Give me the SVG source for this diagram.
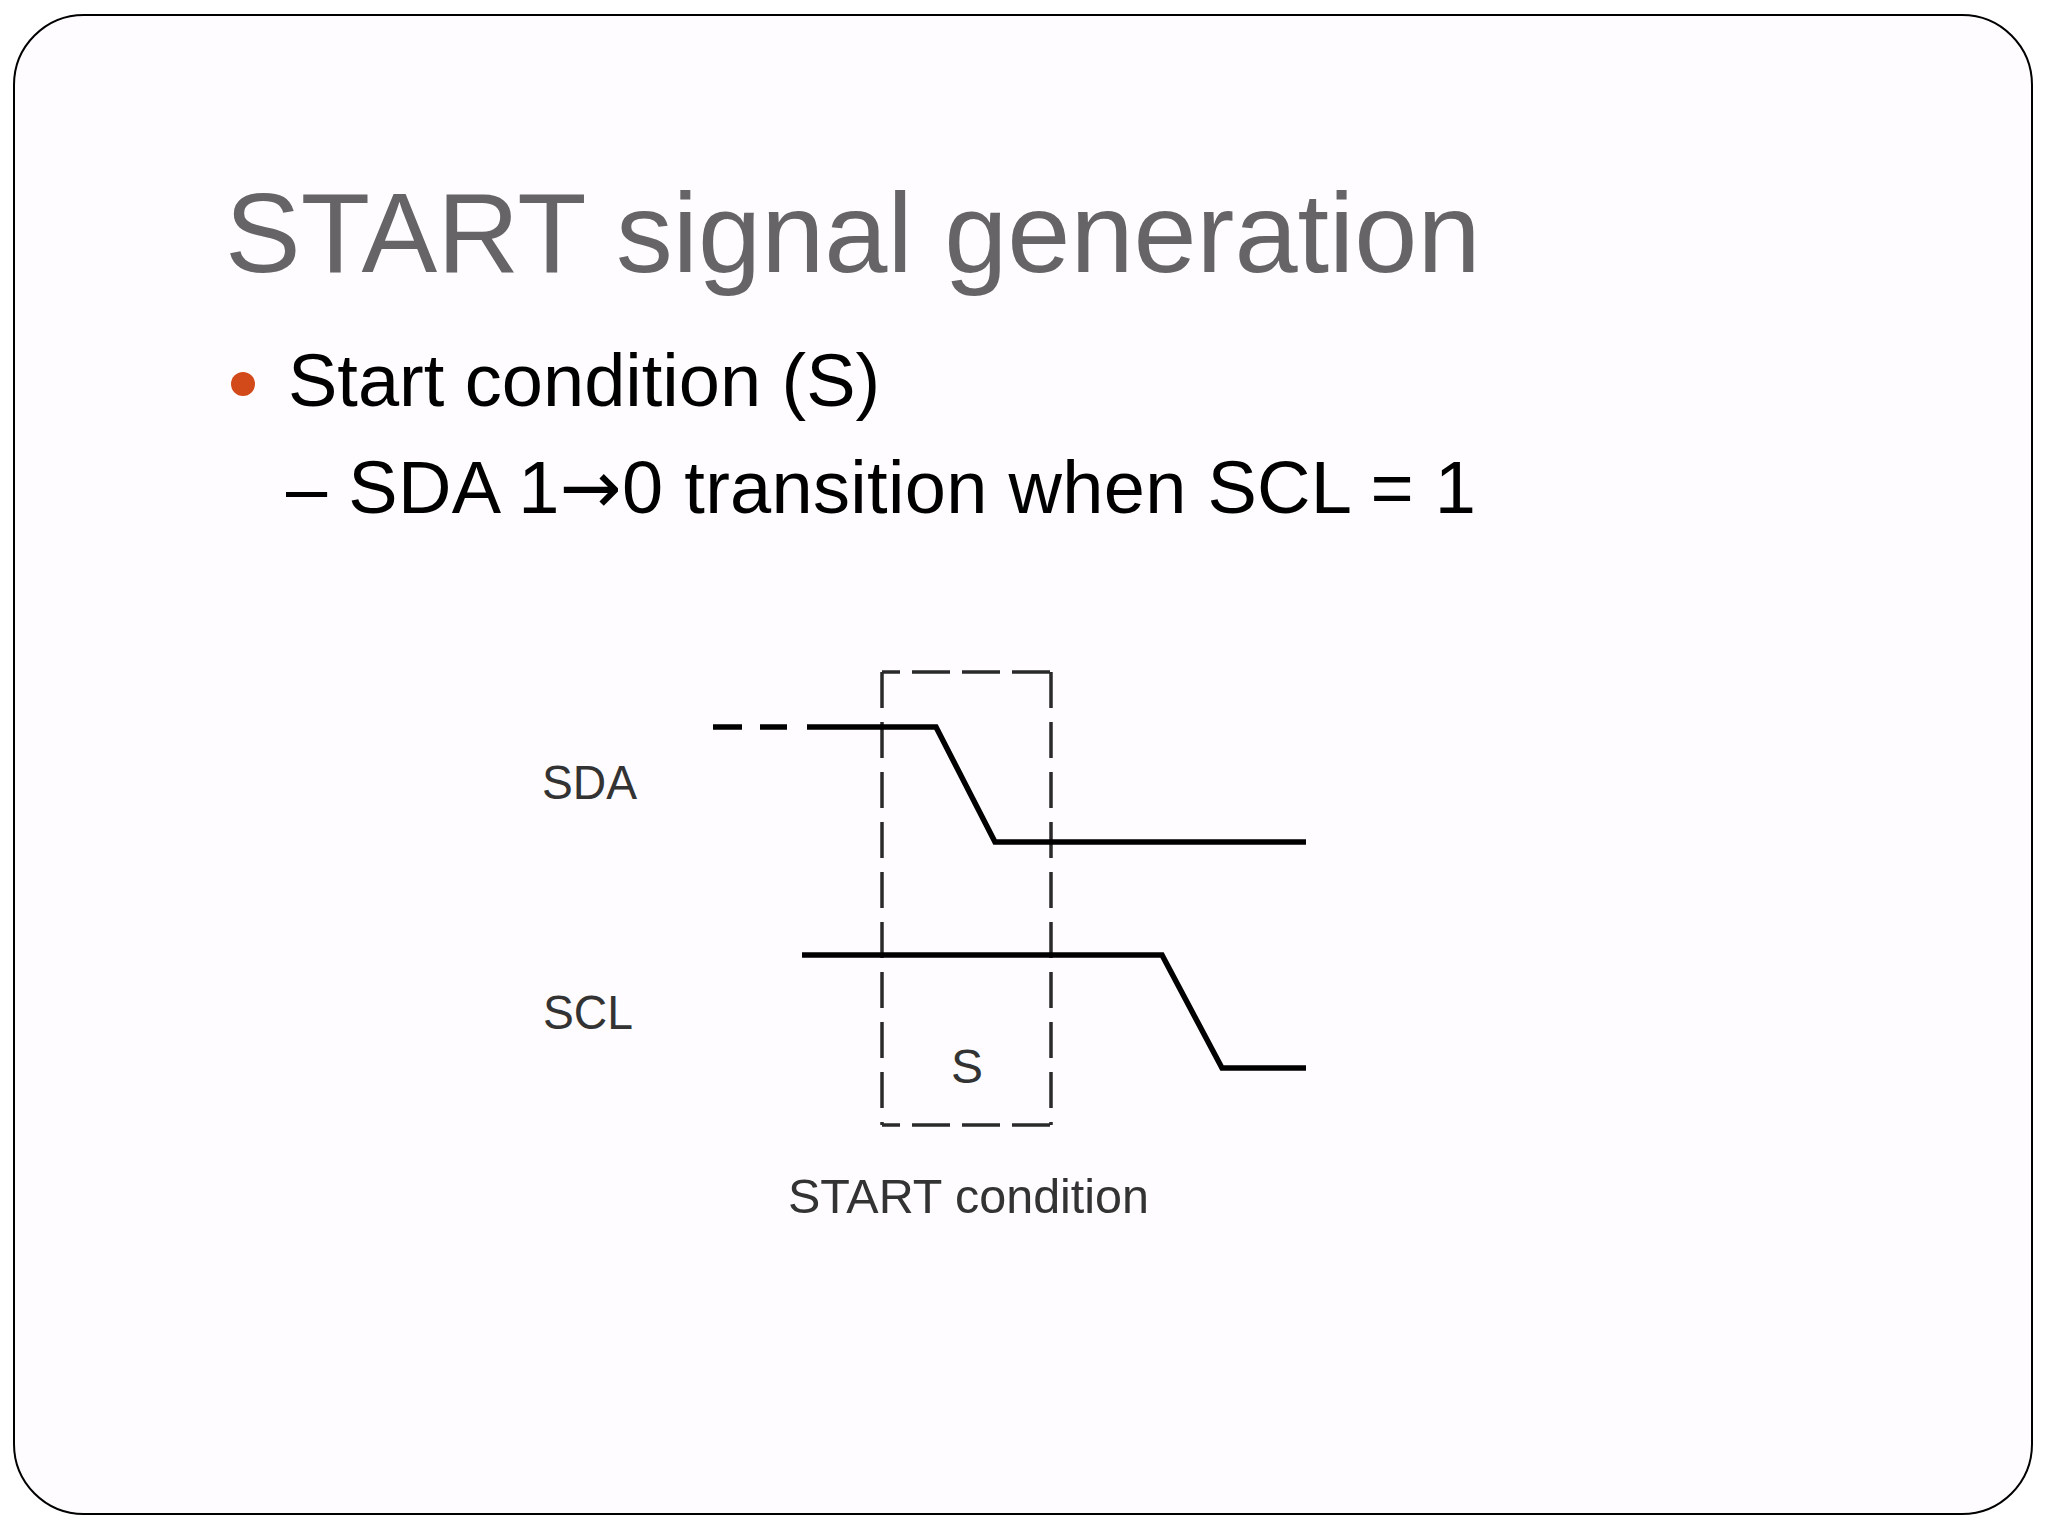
<svg xmlns="http://www.w3.org/2000/svg" width="2048" height="1536" viewBox="0 0 2048 1536">
  <style>
    .title { font-family: "Liberation Sans", Arial, sans-serif; font-size: 113.5px; fill: #666466; }
    .body { font-family: "Liberation Sans", Arial, sans-serif; font-size: 74px; fill: #000000; }
    .arrow { font-family: "DejaVu Sans", sans-serif; }
    .lbl { font-family: "Liberation Sans", Arial, sans-serif; font-size: 48px; fill: #333333; }
    .sig { fill: none; stroke: #000000; stroke-width: 5.5; stroke-linejoin: miter; }
    .box { fill: none; stroke: #2a2a2a; stroke-width: 3.5; }
    .hdash { stroke-dasharray: 38 12; stroke-dashoffset: 20; }
    .vdash { stroke-dasharray: 36 14; }
  </style>
  <rect x="0" y="0" width="2048" height="1536" fill="#ffffff"/>
  <rect x="14" y="15" width="2018" height="1499" rx="70" ry="70" fill="#fefcfe" stroke="#000000" stroke-width="2"/>

  <g id="title">
    <text class="title" x="225" y="272">START signal generation</text>
  </g>
  <g id="bullets">
    <circle cx="243" cy="384" r="12" fill="#D24A1A"/>
    <text class="body" x="288" y="406">Start condition (S)</text>
    <text class="body" x="286" y="513" textLength="1190" lengthAdjust="spacing">– SDA 1<tspan class="arrow">→</tspan>0 transition when SCL = 1</text>
  </g>

  <g id="sda-label"><text class="lbl" x="542" y="799" textLength="95" lengthAdjust="spacingAndGlyphs">SDA</text></g>
  <g id="scl-label"><text class="lbl" x="543" y="1029" textLength="90" lengthAdjust="spacingAndGlyphs">SCL</text></g>
  <g id="s-label"><text class="lbl" x="967" y="1083" text-anchor="middle">S</text></g>
  <g id="start-label"><text class="lbl" x="788" y="1213" textLength="361" lengthAdjust="spacingAndGlyphs">START condition</text></g>

  <g id="start-box">
    <line class="box hdash" x1="882" y1="672" x2="1051" y2="672"/>
    <line class="box hdash" x1="882" y1="1125" x2="1051" y2="1125"/>
    <line class="box vdash" x1="882" y1="672" x2="882" y2="1125"/>
    <line class="box vdash" x1="1051" y1="672" x2="1051" y2="1125"/>
  </g>

  <g id="connectors">
    <path class="sig" d="M713 727 H742 M760 727 H787"/>
    <path class="sig" d="M807 727 H936 L995 842 H1306"/>
    <path class="sig" d="M802 955 H1162 L1222 1068 H1306"/>
  </g>
</svg>
